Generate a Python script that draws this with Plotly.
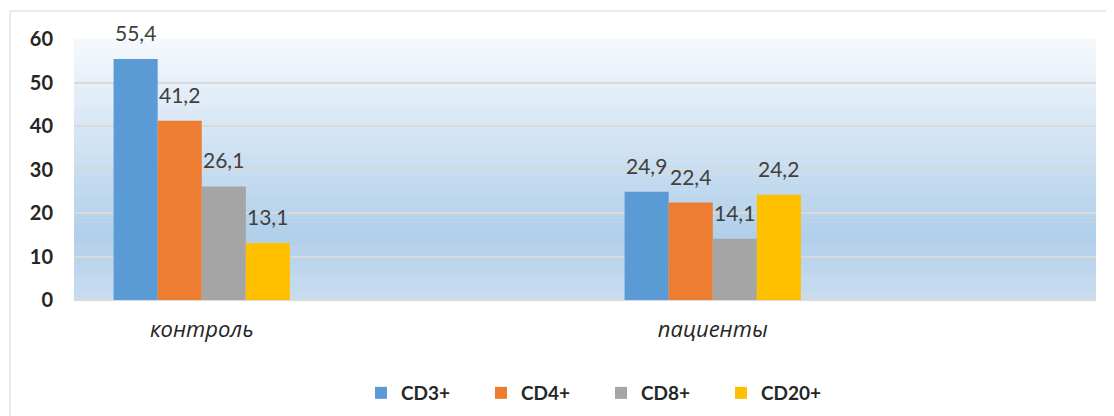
import plotly.graph_objects as go

categories = ["контроль", "пациенты"]
cat_pos = [0, 2]  # two empty category slots follow each group, as in the original
series_names = ["CD3+", "CD4+", "CD8+", "CD20+"]
series_values = [
    [55.4, 24.9],
    [41.2, 22.4],
    [26.1, 14.1],
    [13.1, 24.2],
]
colors = ["#5b9bd5", "#ed7d31", "#a5a5a5", "#ffc000"]
y_ticks = [0, 10, 20, 30, 40, 50, 60]

FONT = "Lato, Carlito, 'Liberation Sans', sans-serif"

GROUP = 0.69
BW = GROUP / len(series_names)

fig = go.Figure()
annotations = []
for i, (name, vals, col) in enumerate(zip(series_names, series_values, colors)):
    off = -GROUP / 2 + i * BW
    fig.add_trace(go.Bar(
        x=cat_pos, y=vals, name=name, marker=dict(color=col, line=dict(width=0)),
        width=BW, offset=off,
    ))
    for xp, v in zip(cat_pos, vals):
        annotations.append(dict(
            x=xp + off + BW / 2, y=v, xref="x", yref="y", text=f"{v:.1f}".replace(".", ","),
            showarrow=False, yanchor="bottom", yshift=12,
            font=dict(family=FONT, size=21, color="#404040"),
        ))

# gradient background of the plot area (horizontal strips)
def lerp(c1, c2, t):
    return tuple(round(a + (b - a) * t) for a, b in zip(c1, c2))

stops = [(0.0, (0xca, 0xdc, 0xf0)), (0.25, (0xb1, 0xcf, 0xea)), (1.0, (0xf6, 0xf9, 0xfd))]
N = 90
shapes = []
for i in range(N):
    f = (i + 0.5) / N
    for (p0, c0), (p1, c1) in zip(stops[:-1], stops[1:]):
        if p0 <= f <= p1:
            c = lerp(c0, c1, (f - p0) / (p1 - p0))
            break
    shapes.append(dict(type="rect", xref="x domain", yref="y domain", x0=0, x1=1,
                       y0=i / N, y1=(i + 1) / N + 0.002, layer="below",
                       fillcolor="rgb(%d,%d,%d)" % c, line=dict(width=0)))

# page body has an 8px default margin; figure is sized so that the plot area
# lands at the same screen pixels as in the reference
BODY = 8
W, H = 1114 - BODY, 416 - BODY
ml, mr, mt, mb = 74 - BODY, 18, 39 - BODY, 116
pw, ph = W - ml - mr, H - mt - mb
def px(x):  # screen x -> paper
    return (x - BODY - ml) / pw
def py(y):  # screen y -> paper
    return (H - mb - (y - BODY)) / ph
shapes.append(dict(type="rect", xref="paper", yref="paper", x0=px(10), x1=px(1130),
                   y0=py(11), y1=py(440), layer="below",
                   line=dict(color="#e3e3e3", width=1.5), fillcolor="rgba(0,0,0,0)"))

fig.update_layout(
    width=W, height=H, margin=dict(l=ml, r=mr, t=mt, b=mb, autoexpand=False),
    paper_bgcolor="white", plot_bgcolor="rgba(0,0,0,0)",
    barmode="overlay",
    shapes=shapes, annotations=annotations,
    showlegend=True,
    legend=dict(orientation="h", x=px(601), xanchor="center", y=py(393), yanchor="middle",
                entrywidth=75, font=dict(family=FONT, size=19, color="#262626", weight="bold"),
                itemwidth=30, traceorder="normal"),
    xaxis=dict(range=[-0.5, 3.5], tickvals=cat_pos, ticktext=categories, automargin=False,
               showgrid=False, zeroline=False, showline=False, ticks="",
               tickfont=dict(family="'Open Sans', " + FONT, size=22, color="#262626", style="italic"),
               ticklabelstandoff=14),
    yaxis=dict(range=[0, 60], tickvals=y_ticks, showgrid=True, gridcolor="#d9d9d9", gridwidth=1.5,
               automargin=False,
               zeroline=True, zerolinecolor="#d9d9d9", zerolinewidth=1.5, showline=False,
               tickfont=dict(family=FONT, size=20, color="#262626", weight="bold"),
               ticklabelstandoff=20),
)

fig.write_html("out.html")
